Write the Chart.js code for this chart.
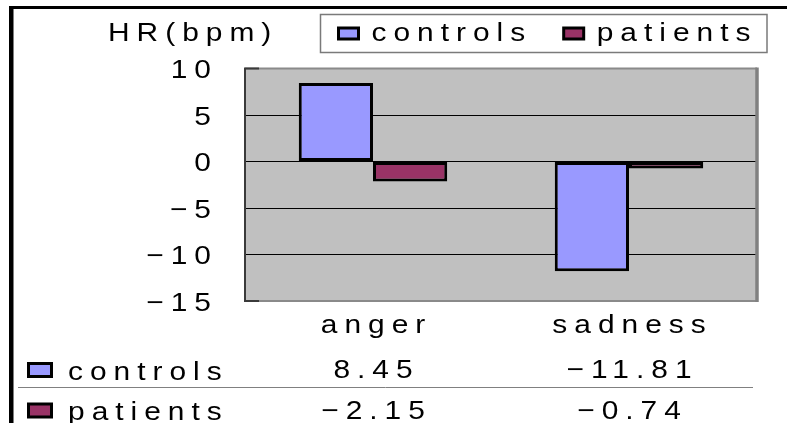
<!DOCTYPE html>
<html><head><meta charset="utf-8">
<script src="https://cdn.jsdelivr.net/npm/chart.js@4.4.0/dist/chart.umd.min.js"></script>
<style>html,body{margin:0;padding:0;background:#fff;overflow:hidden}#wrap{width:787px;height:423px;position:relative}</style>
</head><body><div id="wrap"><canvas id="c"></canvas></div>
<script>
// ---- data ----
const categories = ['anger', 'sadness'];
const seriesNames = ['controls', 'patients'];
const controls = [8.45, -11.81];
const patients = [-2.15, -0.74];
const yMin = -15, yMax = 10, yStep = 5;
const yTitle = 'HR(bpm)';
const seriesColors = ['#9999FF', '#993366'];

// ---- style ----
const FONT = "'Liberation Sans', Arial, sans-serif";
const FS = 26;      // font size
const SX = 1.15;    // horizontal stretch of glyphs (wide gothic look)
const LS = 7;       // letter spacing in screen px
const MINUS = '\u2212';
const fmtTick = v => (v < 0 ? MINUS : '') + Math.abs(v);
const fmtVal = v => (v < 0 ? MINUS : '') + Math.abs(v).toFixed(2);

// widen text rendering on the canvas context (text stays real text)
const canvas = document.getElementById('c');
const ctx0 = canvas.getContext('2d');
(function patch(ctx) {
  const P = CanvasRenderingContext2D.prototype;
  const oFill = P.fillText, oMeasure = P.measureText;
  ctx.fillText = function (t, x, y, mw) {
    const al = this.textAlign;
    let dx = 0, dy = 0;
    if (al === 'center') dx = LS / 2;
    else if (al === 'right' || al === 'end') { dx = LS; dy = 2.5; }
    this.save();
    this.translate(x + dx, y + dy);
    this.scale(SX, 1);
    if (mw === undefined) oFill.call(this, t, 0, 0);
    else oFill.call(this, t, 0, 0, mw / SX);
    this.restore();
  };
  ctx.measureText = function (t) {
    const m = oMeasure.call(this, t);
    return {
      width: m.width * SX,
      actualBoundingBoxAscent: m.actualBoundingBoxAscent,
      actualBoundingBoxDescent: m.actualBoundingBoxDescent,
      actualBoundingBoxLeft: m.actualBoundingBoxLeft * SX,
      actualBoundingBoxRight: m.actualBoundingBoxRight * SX,
      fontBoundingBoxAscent: m.fontBoundingBoxAscent,
      fontBoundingBoxDescent: m.fontBoundingBoxDescent
    };
  };
})(ctx0);

const setLS = chart => { try { chart.ctx.letterSpacing = (LS / SX) + 'px'; } catch (e) {} };

const deco = {
  id: 'deco',
  beforeUpdate: setLS,
  beforeLayout: setLS,
  afterLayout(chart) {
    const lg = chart.legend;
    if (!lg || !lg.lineWidths) return;
    const p = lg.options.labels.padding;
    const start = lg.right - lg.lineWidths[0];
    const dx = 338.5 - start;
    lg.left += dx; lg.right += dx;
    const dy = (20.5 - p) - lg.top;
    lg.top += dy; lg.bottom += dy;
  },
  beforeDraw(chart) {
    setLS(chart);
    const ctx = chart.ctx, a = chart.chartArea;
    ctx.save();
    ctx.fillStyle = '#C0C0C0';
    ctx.fillRect(a.left, a.top, a.right - a.left, a.bottom - a.top);
    // legend frame
    ctx.fillStyle = '#fff';
    ctx.strokeStyle = '#7a7a7a';
    ctx.lineWidth = 1.5;
    const x0 = 320.5, x1 = 767, y0 = 14.5, y1 = 52.5;
    ctx.fillRect(x0, y0, x1 - x0, y1 - y0);
    ctx.strokeRect(x0, y0, x1 - x0, y1 - y0);
    ctx.restore();
  },
  beforeDatasetsDraw(chart) {
    const ctx = chart.ctx, a = chart.chartArea;
    ctx.save();
    ctx.strokeStyle = '#8a8a8a';
    ctx.lineWidth = 2;
    ctx.beginPath();
    ctx.moveTo(a.left, a.top); ctx.lineTo(a.right, a.top);
    ctx.moveTo(a.left, a.bottom); ctx.lineTo(a.right, a.bottom);
    ctx.stroke();
    ctx.strokeStyle = '#808080';
    ctx.lineWidth = 3.5;
    ctx.beginPath();
    ctx.moveTo(a.right, a.top - 1); ctx.lineTo(a.right, a.bottom + 1);
    ctx.stroke();
    ctx.strokeStyle = '#3a3a3a';
    ctx.lineWidth = 2;
    ctx.beginPath();
    ctx.moveTo(a.left, a.top - 1); ctx.lineTo(a.left, a.bottom + 1);
    ctx.moveTo(a.left, a.top); ctx.lineTo(a.left + 14, a.top);
    ctx.moveTo(a.left, a.bottom); ctx.lineTo(a.left + 14, a.bottom);
    ctx.stroke();
    ctx.restore();
  },
  afterDraw(chart) {
    const ctx = chart.ctx;
    const xs = chart.scales.x;
    ctx.save();
    setLS(chart);
    ctx.fillStyle = '#000';
    ctx.fillRect(10, 6, 777, 3);
    ctx.fillRect(9, 6, 4.5, 417);
    ctx.font = FS + 'px ' + FONT;
    ctx.textBaseline = 'middle';
    ctx.textAlign = 'left';
    ctx.fillStyle = '#000';
    ctx.fillText(yTitle, 108, 33.5);
    const rows = [controls, patients];
    const rowY = [371, 411.5];
    ctx.strokeStyle = '#808080';
    ctx.lineWidth = 1;
    ctx.beginPath();
    ctx.moveTo(18, 387.5); ctx.lineTo(753, 387.5);
    ctx.stroke();
    rows.forEach((vals, r) => {
      const cy = rowY[r];
      ctx.fillStyle = seriesColors[r];
      ctx.strokeStyle = '#000';
      ctx.lineWidth = 3;
      ctx.beginPath();
      ctx.rect(28.5, cy - 7.5, 23, 13);
      ctx.fill(); ctx.stroke();
      ctx.fillStyle = '#000';
      ctx.textAlign = 'left';
      ctx.fillText(seriesNames[r], 68, cy + 1.5);
      ctx.textAlign = 'center';
      vals.forEach((v, i) => {
        ctx.fillText(fmtVal(v), xs.getPixelForValue(i), cy);
      });
    });
    ctx.restore();
  }
};

const font = { family: FONT, size: FS };

new Chart(canvas, {
  type: 'bar',
  data: {
    labels: categories,
    datasets: [
      { label: seriesNames[0], data: controls, backgroundColor: seriesColors[0], borderColor: '#000', borderWidth: 3, borderSkipped: false },
      { label: seriesNames[1], data: patients, backgroundColor: seriesColors[1], borderColor: '#000', borderWidth: 3, borderSkipped: false }
    ]
  },
  options: {
    responsive: true,
    maintainAspectRatio: false,
    animation: false,
    devicePixelRatio: 1,
    categoryPercentage: 0.58,
    barPercentage: 1.0,
    layout: { padding: { left: 14, top: 1, right: 30, bottom: 0 } },
    plugins: {
      legend: {
        position: 'top',
        align: 'end',
        labels: { font, color: '#000', boxWidth: 20, boxHeight: 11, padding: 31.5 }
      },
      title: { display: false },
      tooltip: { enabled: false }
    },
    scales: {
      x: {
        grid: { display: false, drawTicks: false },
        border: { display: false },
        ticks: { font, color: '#000', padding: 9, maxRotation: 0 },
        afterFit: s => { s.height = 122; }
      },
      y: {
        min: yMin, max: yMax,
        grid: {
          drawTicks: false,
          lineWidth: 1,
          color: c => (c.tick && (c.tick.value === yMax || c.tick.value === yMin)) ? 'rgba(0,0,0,0)' : '#000'
        },
        border: { display: false },
        ticks: { stepSize: yStep, font, color: '#000', padding: 34, callback: v => fmtTick(v) },
        afterFit: s => { s.width = 231; }
      }
    }
  },
  plugins: [deco]
});
</script>
</body></html>
